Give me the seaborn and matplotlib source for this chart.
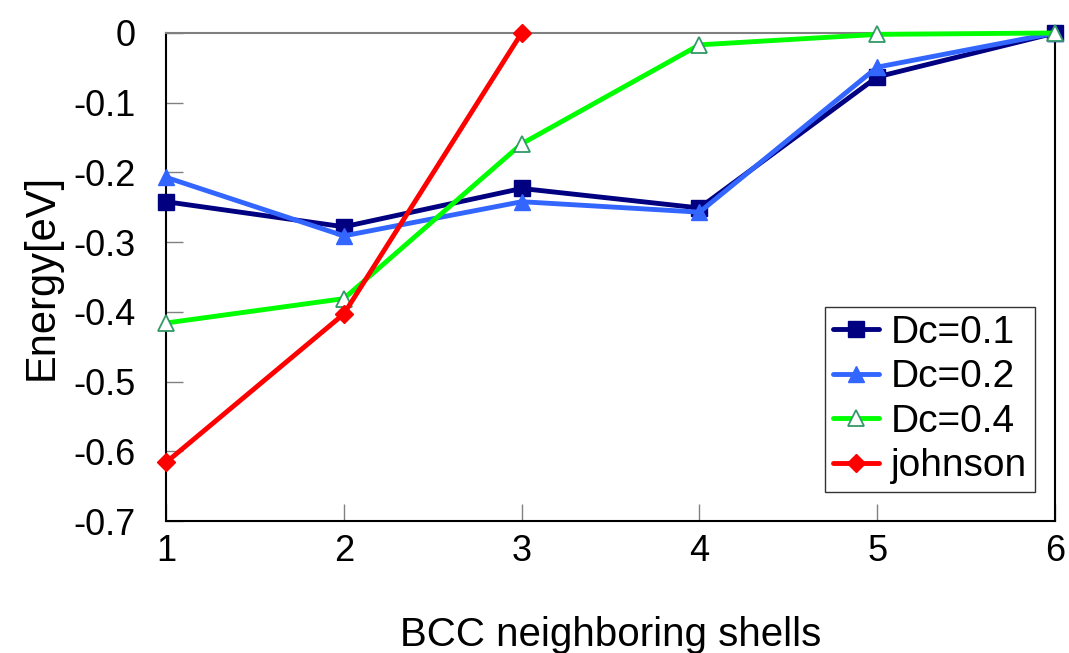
import matplotlib
matplotlib.use("Agg")
import matplotlib.pyplot as plt
import seaborn as sns
import pandas as pd

shells = [1, 2, 3, 4, 5, 6]
dc01 = [-0.242, -0.278, -0.223, -0.251, -0.063, 0.0]
dc02 = [-0.207, -0.291, -0.242, -0.257, -0.049, 0.0]
dc04 = [-0.416, -0.381, -0.159, -0.017, -0.002, 0.0]
johnson_x = [1, 2, 3]
johnson = [-0.616, -0.403, 0.0]

sns.set_theme(style="white")
plt.rcParams['font.family'] = ['Liberation Sans', 'DejaVu Sans']
plt.rcParams['text.color'] = 'black'
plt.rcParams['axes.labelcolor'] = 'black'

fig = plt.figure(figsize=(10.69, 6.53), dpi=100)
ax = fig.add_axes([0.1553, 0.2021, 0.8317, 0.7474])

series = [
    ("Dc=0.1", shells, dc01, dict(color="#000080", marker="s", markersize=11,
                                   markerfacecolor="#000080", markeredgecolor="#000080")),
    ("Dc=0.2", shells, dc02, dict(color="#3366FF", marker="^", markersize=12,
                                   markerfacecolor="#3366FF", markeredgecolor="#3366FF")),
    ("Dc=0.4", shells, dc04, dict(color="#00FF00", marker="^", markersize=12,
                                   markerfacecolor="white", markeredgecolor="#339966",
                                   markeredgewidth=1.3)),
    ("johnson", johnson_x, johnson, dict(color="#FF0000", marker="D", markersize=9,
                                          markerfacecolor="#FF0000", markeredgecolor="#FF0000")),
]

for name, xs, ys, kw in series:
    df = pd.DataFrame({"x": xs, "y": ys})
    mew = kw.pop("markeredgewidth", 1.0)
    sns.lineplot(data=df, x="x", y="y", ax=ax, label=name, linewidth=3.5,
                 markeredgewidth=mew, clip_on=False, zorder=3, **kw)

ax.set_xlim(1, 6)
ax.set_ylim(-0.7, 0)
ax.set_xticks(shells)
ax.set_yticks([0, -0.1, -0.2, -0.3, -0.4, -0.5, -0.6, -0.7])
ax.set_yticklabels(["0", "-0.1", "-0.2", "-0.3", "-0.4", "-0.5", "-0.6", "-0.7"])

ax.tick_params(axis="both", direction="in", length=12, width=1, color="#808080",
               labelsize=26, labelcolor="black", bottom=True, left=True)
ax.tick_params(axis="y", pad=22)
ax.tick_params(axis="x", pad=9)

for s in ["left", "bottom", "right"]:
    ax.spines[s].set_color("black")
    ax.spines[s].set_linewidth(1.5)
ax.spines["top"].set_color("#808080")
ax.spines["top"].set_linewidth(1.5)
ax.grid(False)

ax.set_xlabel("BCC neighboring shells", fontsize=29, labelpad=34, color="black")
ax.set_ylabel("Energy[eV]", fontsize=30, labelpad=8, color="black")

leg = ax.legend(loc="upper left", bbox_to_anchor=(0.741, 0.4385), borderaxespad=0,
                fontsize=28, frameon=True, fancybox=False, handlelength=1.2,
                handletextpad=0.3, labelspacing=0.22, borderpad=0.2)
leg.get_frame().set_edgecolor("black")
leg.get_frame().set_linewidth(1.0)
for t in leg.get_texts():
    t.set_color("black")

fig.savefig("out.png", dpi=100)
